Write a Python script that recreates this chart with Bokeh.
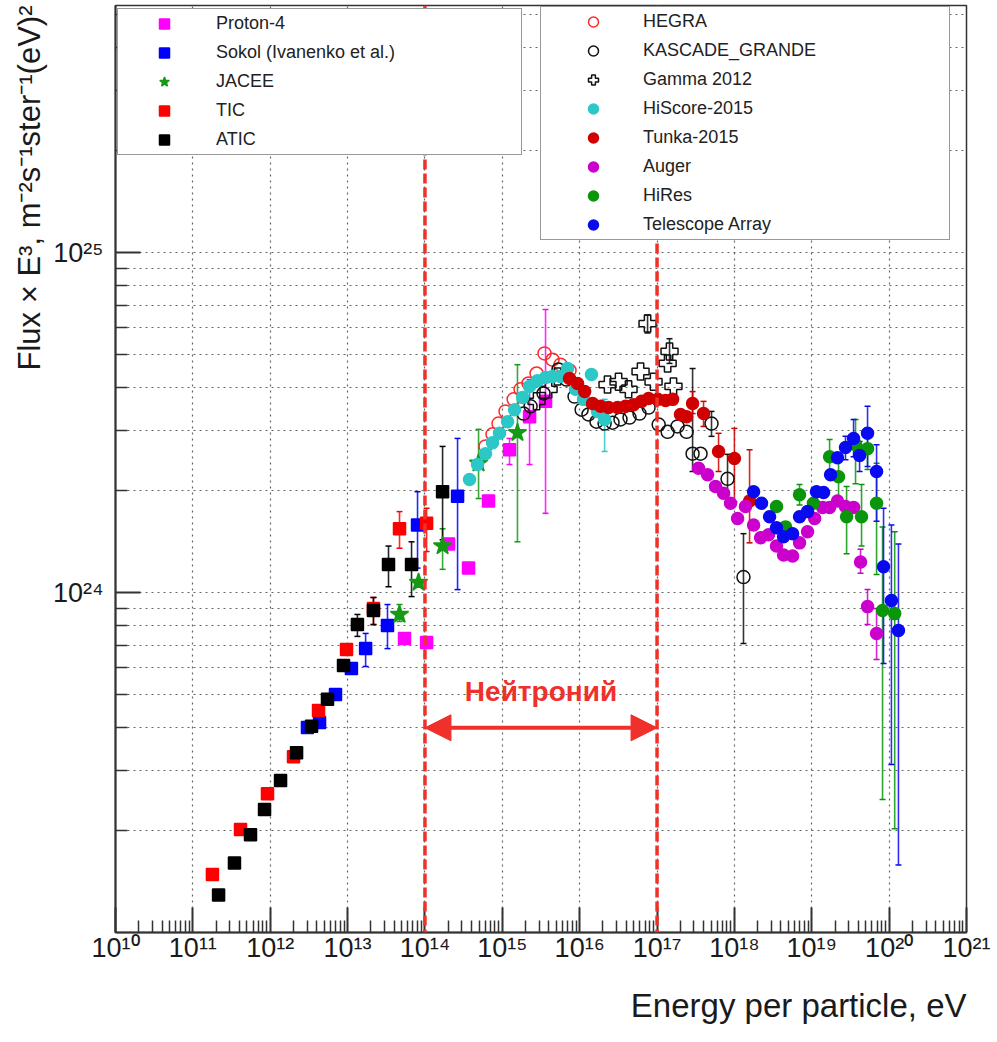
from bokeh.plotting import figure
from bokeh.models import (ColumnDataSource, FixedTicker, Span, Arrow, NormalHead, Label,
                          Legend, LegendItem, Whisker, TeeHead, Title)
from bokeh.embed import file_html
from bokeh.resources import INLINE

# ---------------- data (energy in eV, flux x E^3) ----------------
proton4_e = [5.44e13, 1.05e14, 2.02e14, 3.66e14, 6.63e14, 1.24e15, 2.25e15, 3.62e15]
proton4_f = [7.32e23, 7.13e23, 1.39e24, 1.18e24, 1.86e24, 2.63e24, 3.29e24, 3.65e24]
proton4_bar_e = [1.24e15, 2.25e15, 3.62e15]
proton4_bar_lo = [2.38e24, 2.38e24, 1.71e24]
proton4_bar_hi = [2.84e24, 4.23e24, 6.80e24]

sokol_e = [3.03e12, 4.34e12, 6.98e12, 1.12e13, 1.71e13, 3.28e13, 8.02e13, 2.64e14]
sokol_f = [4.01e23, 4.15e23, 5.01e23, 5.98e23, 6.84e23, 8.00e23, 1.58e24, 1.92e24]
sokol_bar_e = [1.71e13, 3.28e13, 8.02e13, 2.64e14]
sokol_bar_lo = [6.06e23, 6.84e23, 1.18e24, 1.02e24]
sokol_bar_hi = [7.58e23, 9.22e23, 1.98e24, 2.84e24]

jacee_e = [4.69e13, 8.26e13, 1.69e14, 4.93e14, 1.57e15]
jacee_f = [8.62e23, 1.07e24, 1.37e24, 2.40e24, 2.95e24]
jacee_bar_e = [4.69e13, 1.69e14, 4.93e14, 1.57e15]
jacee_bar_lo = [8.22e23, 1.17e24, 1.89e24, 1.41e24]
jacee_bar_hi = [9.22e23, 1.54e24, 3.02e24, 4.68e24]

tic_e = [1.79e11, 4.13e11, 9.22e11, 2.00e12, 4.21e12, 9.69e12, 2.16e13, 4.69e13, 1.05e14]
tic_f = [1.48e23, 2.01e23, 2.56e23, 3.29e23, 4.50e23, 6.80e23, 8.97e23, 1.54e24, 1.60e24]
tic_bar_e = [2.16e13, 4.69e13, 1.05e14]
tic_bar_lo = [8.05e23, 1.35e24, 1.32e24]
tic_bar_hi = [9.67e23, 1.73e24, 1.77e24]

atic_e = [2.15e11, 3.45e11, 5.56e11, 8.44e11, 1.36e12, 2.19e12, 3.42e12, 5.50e12,
          8.86e12, 1.34e13, 2.16e13, 3.38e13, 6.71e13, 1.69e14]
atic_f = [1.29e23, 1.60e23, 1.94e23, 2.30e23, 2.80e23, 3.38e23, 4.04e23, 4.85e23,
          6.10e23, 8.05e23, 8.85e23, 1.21e24, 1.21e24, 1.98e24]
atic_bar_e = [1.34e13, 2.16e13, 3.38e13, 6.71e13, 1.69e14]
atic_bar_lo = [7.43e23, 8.05e23, 1.04e24, 9.73e23, 1.43e24]
atic_bar_hi = [8.62e23, 9.67e23, 1.37e24, 1.41e24, 2.69e24]

hegra_e = [6.07e14, 7.47e14, 8.94e14, 1.10e15, 1.40e15, 1.72e15, 2.18e15, 2.77e15,
           3.51e15, 4.46e15, 5.65e15, 7.39e15]
hegra_f = [2.69e24, 2.92e24, 3.14e24, 3.41e24, 3.70e24, 3.96e24, 4.12e24, 4.41e24,
           5.05e24, 4.84e24, 4.68e24, 4.50e24]

kascade_e = [1.88e15, 2.32e15, 3.41e15, 5.33e15, 6.76e15, 8.58e15, 1.06e16, 1.30e16,
             1.65e16, 2.10e16, 2.66e16, 3.37e16, 4.41e16, 5.94e16, 7.77e16, 1.05e17,
             1.37e17, 1.84e17, 2.41e17, 2.88e17, 3.65e17, 5.06e17, 8.15e17, 1.31e18]
kascade_f = [3.36e24, 3.53e24, 3.85e24, 4.53e24, 4.23e24, 3.77e24, 3.45e24, 3.34e24,
             3.18e24, 3.14e24, 3.16e24, 3.23e24, 3.27e24, 3.36e24, 3.50e24, 3.12e24,
             2.97e24, 3.08e24, 2.97e24, 2.56e24, 2.56e24, 3.14e24, 2.16e24, 1.11e24]
kascade_bar_e = [2.88e17, 5.06e17, 8.15e17, 1.31e18]
kascade_bar_lo = [2.27e24, 2.88e24, 1.85e24, 7.08e23]
kascade_bar_hi = [4.56e24, 3.41e24, 2.55e24, 1.49e24]

gamma_e = [2.77e15, 3.96e15, 5.17e15, 2.29e16, 3.18e16, 4.28e16, 6.12e16, 7.54e16,
           9.01e16, 1.37e17, 1.45e17, 1.63e17]
gamma_f = [3.65e24, 3.96e24, 4.32e24, 4.09e24, 4.17e24, 3.96e24, 4.47e24, 6.18e24,
           4.17e24, 4.72e24, 5.12e24, 4.04e24]
gamma_bar_e = [7.54e16, 1.45e17]
gamma_bar_lo = [5.80e24, 4.72e24]
gamma_bar_hi = [6.55e24, 5.58e24]

hiscore_e = [3.77e14, 4.78e14, 6.07e14, 7.47e14, 9.20e14, 1.17e15, 1.44e15, 1.83e15,
             2.25e15, 2.85e15, 3.62e15, 4.46e15, 5.65e15, 6.97e15, 8.84e15, 1.12e16,
             1.42e16, 1.70e16, 2.10e16]
hiscore_f = [2.15e24, 2.38e24, 2.56e24, 2.76e24, 2.94e24, 3.18e24, 3.45e24, 3.75e24,
             4.04e24, 4.20e24, 4.29e24, 4.32e24, 4.32e24, 4.56e24, 3.96e24, 3.70e24,
             4.38e24, 3.41e24, 3.23e24]
hiscore_bar_e = [2.10e16]
hiscore_bar_lo = [2.60e24]
hiscore_bar_hi = [3.70e24]

tunka_e = [7.39e15, 9.38e15, 1.16e16, 1.47e16, 1.86e16, 2.36e16, 3.09e16, 3.92e16,
           4.97e16, 6.30e16, 7.77e16, 1.02e17, 1.29e17, 1.59e17, 2.01e17, 2.41e17,
           2.88e17, 3.99e17, 6.24e17, 1.00e18, 1.57e18]
tunka_f = [4.26e24, 4.12e24, 3.90e24, 3.60e24, 3.53e24, 3.50e24, 3.50e24, 3.53e24,
           3.57e24, 3.65e24, 3.72e24, 3.70e24, 3.67e24, 3.70e24, 3.34e24, 3.29e24,
           3.60e24, 3.36e24, 2.60e24, 2.48e24, 1.86e24]
tunka_bar_e = [2.88e17, 3.99e17, 6.24e17, 1.00e18, 1.57e18]
tunka_bar_lo = [3.36e24, 3.08e24, 2.27e24, 1.85e24, 1.40e24]
tunka_bar_hi = [3.90e24, 3.65e24, 2.94e24, 3.04e24, 2.63e24]

auger_e = [3.44e17, 4.50e17, 5.70e17, 7.24e17, 8.91e17, 1.10e18, 1.39e18, 1.77e18,
           2.18e18, 2.76e18, 3.50e18, 4.32e18, 5.65e18, 6.95e18, 8.82e18, 1.09e19,
           1.38e19, 1.70e19, 2.15e19, 2.73e19, 3.47e19, 4.27e19, 5.26e19, 6.88e19]
auger_f = [2.32e24, 2.22e24, 2.05e24, 1.96e24, 1.83e24, 1.65e24, 1.79e24, 1.58e24,
           1.45e24, 1.48e24, 1.37e24, 1.29e24, 1.28e24, 1.40e24, 1.51e24, 1.65e24,
           1.78e24, 1.78e24, 1.86e24, 1.79e24, 1.78e24, 1.23e24, 9.09e23, 7.58e23]
auger_bar_e = [4.27e19, 5.26e19, 6.88e19]
auger_bar_lo = [1.14e24, 8.05e23, 6.35e23]
auger_bar_hi = [1.34e24, 1.02e24, 8.97e23]

hires_e = [3.50e18, 4.58e18, 6.95e18, 1.05e19, 1.70e19, 2.22e19, 2.82e19, 3.68e19,
           4.40e19, 5.26e19, 6.88e19, 8.22e19, 1.18e20]
hires_f = [1.79e24, 1.56e24, 1.94e24, 1.83e24, 2.51e24, 2.19e24, 1.67e24, 2.72e24,
           1.67e24, 2.65e24, 1.83e24, 8.85e23, 8.67e23]
hires_bar_e = [6.95e18, 1.70e19, 2.22e19, 2.82e19, 3.68e19, 4.40e19, 5.26e19, 6.88e19,
               8.22e19, 1.18e20]
hires_bar_lo = [1.81e24, 2.19e24, 1.89e24, 1.30e24, 2.09e24, 1.37e24, 2.30e24, 1.13e24,
                2.46e23, 2.02e23]
hires_bar_hi = [2.08e24, 2.82e24, 2.55e24, 2.05e24, 3.23e24, 2.08e24, 3.04e24, 2.40e24,
                1.56e24, 1.51e24]

ta_e = [1.77e18, 2.24e18, 2.85e18, 3.50e18, 4.32e18, 5.65e18, 6.95e18, 8.82e18,
        1.15e19, 1.42e19, 1.75e19, 2.15e19, 2.73e19, 3.47e19, 4.15e19, 5.26e19,
        6.88e19, 8.47e19, 1.07e20, 1.32e20]
ta_f = [1.98e24, 1.83e24, 1.67e24, 1.55e24, 1.46e24, 1.49e24, 1.67e24, 1.73e24,
        1.98e24, 1.97e24, 2.22e24, 2.49e24, 2.67e24, 2.84e24, 2.53e24, 2.94e24,
        2.27e24, 1.19e24, 9.47e23, 7.73e23]
ta_bar_e = [2.73e19, 3.47e19, 4.15e19, 5.26e19, 6.88e19, 8.47e19, 1.07e20, 1.32e20]
ta_bar_lo = [2.46e24, 2.51e24, 2.27e24, 2.35e24, 1.62e24, 6.18e23, 3.12e23, 1.58e23]
ta_bar_hi = [2.88e24, 3.23e24, 2.78e24, 3.53e24, 2.72e24, 1.77e24, 1.58e24, 1.39e24]

# region marked on the plot
neutronium_bounds = [1e14, 1e17]
neutronium_text = "Нейтроний"
arrow_flux = 4.0e23
label_flux = 5.1e23

# axes
x_major = [1e10, 1e11, 1e12, 1e13, 1e14, 1e15, 1e16, 1e17, 1e18, 1e19, 1e20, 1e21]
x_tick_labels = ["10¹⁰", "10¹¹", "10¹²", "10¹³", "10¹⁴", "10¹⁵", "10¹⁶", "10¹⁷",
                 "10¹⁸", "10¹⁹", "10²⁰", "10²¹"]
y_major = [1e24, 1e25]
y_tick_labels = ["10²⁴", "10²⁵"]
x_title = "Energy per particle, eV"
y_title = "Flux × E³, m⁻²s⁻¹ster⁻¹(eV)²"

x_minor = [m * t for t in x_major[:-1] for m in range(2, 10)]
y_minor = [m * t for t in [1e23, 1e24, 1e25] for m in range(2, 10) if m * t < 5.3e25]

FONT = "Liberation Sans"

p = figure(x_axis_type="log", y_axis_type="log",
           x_range=(1e10, 1e21), y_range=(1e23, 5.33e25),
           frame_width=851, frame_height=927,
           min_border_left=115, min_border_right=31, min_border_top=5, min_border_bottom=110,
           output_backend="svg", toolbar_location=None,
           background_fill_color="white", border_fill_color="white")
p.outline_line_color = "#333333"
p.outline_line_width = 1.5

x_ticker = FixedTicker(ticks=x_major, minor_ticks=x_minor)
y_ticker = FixedTicker(ticks=y_major, minor_ticks=y_minor)
p.xaxis.ticker = x_ticker
p.yaxis.ticker = y_ticker
p.xgrid.ticker = x_ticker
p.ygrid.ticker = y_ticker
p.xaxis.major_label_overrides = dict(zip(x_major, x_tick_labels))
p.yaxis.major_label_overrides = dict(zip(y_major, y_tick_labels))

for ax in (p.xaxis[0], p.yaxis[0]):
    ax.axis_line_color = "#333333"
    ax.axis_line_width = 2
    ax.major_tick_line_color = "#333333"
    ax.major_tick_line_width = 2
    ax.minor_tick_line_color = "#333333"
    ax.minor_tick_line_width = 1.5
    ax.major_tick_in = 25
    ax.major_tick_out = 0
    ax.minor_tick_in = 12
    ax.minor_tick_out = 0
    ax.major_label_text_font = FONT
    ax.major_label_text_font_size = "27px"
    ax.major_label_text_color = "#1a1a1a"
p.xaxis.major_label_standoff = 0
p.yaxis.major_label_standoff = 12

for g in (p.xgrid, p.ygrid):
    g.grid_line_color = "#666666"
    g.grid_line_dash = "2 4"
    g.grid_line_width = 1.2
p.ygrid.minor_grid_line_color = "#666666"
p.ygrid.minor_grid_line_dash = "2 4"
p.ygrid.minor_grid_line_width = 1.2

# axis titles, aligned to the far end of each axis
p.add_layout(Title(text=x_title, align="right", text_font=FONT, text_font_size="33px",
                   text_font_style="normal", text_color="#1a1a1a", standoff=38), "below")
p.add_layout(Title(text=y_title, align="right", text_font=FONT, text_font_size="31px",
                   text_font_style="normal", text_color="#1a1a1a", standoff=6), "left")


def draw(e, f, bar_e, bar_lo, bar_hi, marker, color, size, filled=True, lw=1.5):
    if bar_e:
        src = ColumnDataSource(dict(x=bar_e, lo=bar_lo, hi=bar_hi))
        head = dict(size=6, line_color=color, line_width=1.5)
        p.add_layout(Whisker(source=src, base="x", lower="lo", upper="hi",
                             dimension="height", line_color=color, line_width=1.6,
                             line_alpha=0.85, upper_head=TeeHead(**head),
                             lower_head=TeeHead(**head)))
    return p.scatter(e, f, marker=marker, size=size, line_color=color, line_width=lw,
                     fill_color=color if filled else None)


r_p4 = draw(proton4_e, proton4_f, proton4_bar_e, proton4_bar_lo, proton4_bar_hi,
            "square", "#ff00ff", 12)
r_sokol = draw(sokol_e, sokol_f, sokol_bar_e, sokol_bar_lo, sokol_bar_hi,
               "square", "#0000ff", 12)
r_jacee = draw(jacee_e, jacee_f, jacee_bar_e, jacee_bar_lo, jacee_bar_hi,
               "star", "#159a15", 19)
r_tic = draw(tic_e, tic_f, tic_bar_e, tic_bar_lo, tic_bar_hi, "square", "#ff0000", 12)
r_atic = draw(atic_e, atic_f, atic_bar_e, atic_bar_lo, atic_bar_hi, "square", "#000000", 12)
r_hegra = draw(hegra_e, hegra_f, [], [], [], "circle", "#ff2a2a", 13, filled=False)
r_kas = draw(kascade_e, kascade_f, kascade_bar_e, kascade_bar_lo, kascade_bar_hi,
             "circle", "#111111", 13, filled=False)
r_gamma = draw(gamma_e, gamma_f, gamma_bar_e, gamma_bar_lo, gamma_bar_hi,
               "plus", "#111111", 17, filled=False)
r_hisc = draw(hiscore_e, hiscore_f, hiscore_bar_e, hiscore_bar_lo, hiscore_bar_hi,
              "circle", "#2cc7c7", 12)
r_tunka = draw(tunka_e, tunka_f, tunka_bar_e, tunka_bar_lo, tunka_bar_hi,
               "circle", "#d00000", 12)
r_auger = draw(auger_e, auger_f, auger_bar_e, auger_bar_lo, auger_bar_hi,
               "circle", "#cc00cc", 12)
r_hires = draw(hires_e, hires_f, hires_bar_e, hires_bar_lo, hires_bar_hi,
               "circle", "#0a960a", 12)
r_ta = draw(ta_e, ta_f, ta_bar_e, ta_bar_lo, ta_bar_hi, "circle", "#0a0af0", 12)

RED = "#f0302a"
for loc in neutronium_bounds:
    p.add_layout(Span(location=loc, dimension="height", line_color=RED,
                      line_width=3.5, line_dash="10 4"))

p.add_layout(Label(x=(neutronium_bounds[0] * neutronium_bounds[1]) ** 0.5, y=label_flux,
                   text=neutronium_text, text_font=FONT, text_font_style="bold",
                   text_font_size="28px", text_color=RED,
                   text_align="center", text_baseline="middle"))

legend_style = dict(padding=2, spacing=4, glyph_height=25, label_height=25,
                    label_text_font=FONT, label_text_font_size="18px",
                    label_text_color="#222222", border_line_color="#333333",
                    border_line_width=1.5, background_fill_color="white",
                    background_fill_alpha=1.0)

left_legend = Legend(items=[LegendItem(label="Proton-4", renderers=[r_p4]),
                            LegendItem(label="Sokol (Ivanenko et al.)", renderers=[r_sokol]),
                            LegendItem(label="JACEE", renderers=[r_jacee]),
                            LegendItem(label="TIC", renderers=[r_tic]),
                            LegendItem(label="ATIC", renderers=[r_atic])],
                     location=(2, 777), glyph_width=88, label_standoff=8, label_width=303,
                     **legend_style)
right_legend = Legend(items=[LegendItem(label="HEGRA", renderers=[r_hegra]),
                             LegendItem(label="KASCADE_GRANDE", renderers=[r_kas]),
                             LegendItem(label="Gamma 2012", renderers=[r_gamma]),
                             LegendItem(label="HiScore-2015", renderers=[r_hisc]),
                             LegendItem(label="Tunka-2015", renderers=[r_tunka]),
                             LegendItem(label="Auger", renderers=[r_auger]),
                             LegendItem(label="HiRes", renderers=[r_hires]),
                             LegendItem(label="Telescope Array", renderers=[r_ta])],
                      location=(425, 692), glyph_width=100, label_standoff=0, label_width=304,
                      **legend_style)
p.add_layout(left_legend)
p.add_layout(right_legend)

arrow_src = ColumnDataSource(dict(x0=[neutronium_bounds[0]], x1=[neutronium_bounds[1]],
                                  y0=[arrow_flux], y1=[arrow_flux]))
p.add_layout(Arrow(source=arrow_src, x_start="x0", y_start="y0", x_end="x1", y_end="y1",
                   line_color=RED, line_width=4,
                   start=NormalHead(size=26, fill_color=RED, line_color=RED),
                   end=NormalHead(size=26, fill_color=RED, line_color=RED)))

html = file_html(p, INLINE, title="Cosmic ray spectrum")
with open("out.html", "w", encoding="utf-8") as fh:
    fh.write(html)
